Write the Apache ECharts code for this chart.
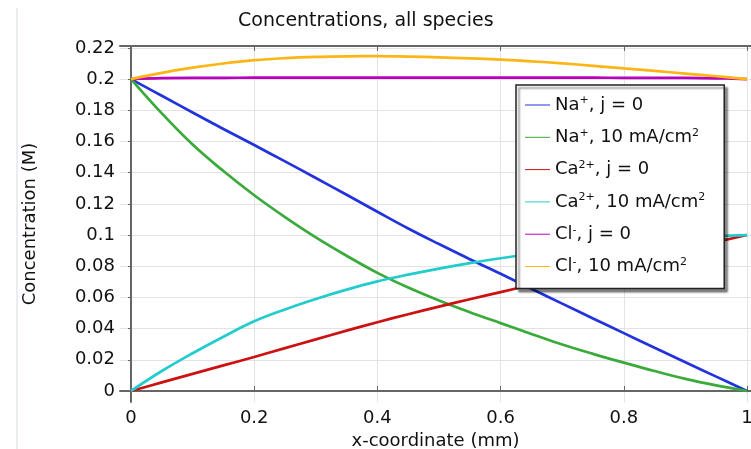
<!DOCTYPE html>
<html lang="en">
  <head>
    <meta charset="UTF-8" />
    <title>Concentrations, all species</title>
    <script src="https://cdn.jsdelivr.net/npm/echarts@6/dist/echarts.min.js"></script>
    <style>
      html,
      body {
        margin: 0;
        padding: 0;
        background: #fff;
      }
      #chart {
        width: 751px;
        height: 449px;
      }
    </style>
  </head>
  <body>
    <div id="chart"></div>

    <script>
      // x-coordinate (mm)
      var xs = [0, 0.05, 0.1, 0.15, 0.2, 0.25, 0.3, 0.35, 0.4, 0.45, 0.5, 0.55, 0.6, 0.65, 0.7, 0.75, 0.8, 0.85, 0.9, 0.95, 1];

      // concentrations (M)
      var naZero = [0.2, 0.1893, 0.1786, 0.168, 0.1577, 0.1472, 0.1366, 0.1258, 0.1149, 0.1042, 0.0942, 0.0845, 0.0752, 0.0655, 0.056, 0.0465, 0.0371, 0.0277, 0.0184, 0.0092, 0];
      var naTen = [0.2, 0.178, 0.158, 0.141, 0.1255, 0.1115, 0.0985, 0.0867, 0.0757, 0.0663, 0.058, 0.0505, 0.0435, 0.0366, 0.0298, 0.0238, 0.0182, 0.0128, 0.0078, 0.0036, 0];
      var caZero = [0, 0.0055, 0.011, 0.0164, 0.0218, 0.0275, 0.0331, 0.0387, 0.0441, 0.0492, 0.0541, 0.0588, 0.0634, 0.068, 0.0726, 0.0772, 0.0818, 0.0864, 0.091, 0.0955, 0.1];
      var caTen = [0, 0.0128, 0.0242, 0.0348, 0.0447, 0.0523, 0.059, 0.065, 0.0703, 0.0746, 0.0785, 0.082, 0.0851, 0.0879, 0.0905, 0.0928, 0.0948, 0.0966, 0.0981, 0.0993, 0.1];
      var clZero = [0.2, 0.2006, 0.2008, 0.2008, 0.2009, 0.2009, 0.2009, 0.2009, 0.2009, 0.2009, 0.2009, 0.2009, 0.2009, 0.2009, 0.2009, 0.2009, 0.2008, 0.2008, 0.2007, 0.2005, 0.2];
      var clTen = [0.2, 0.204, 0.2073, 0.21, 0.2121, 0.2134, 0.2142, 0.2146, 0.2147, 0.2144, 0.2139, 0.2133, 0.2125, 0.2114, 0.2101, 0.2085, 0.2068, 0.2052, 0.2035, 0.2018, 0.2];

      var xTicks = [0, 0.2, 0.4, 0.6, 0.8, 1];
      var yTicks = [0, 0.02, 0.04, 0.06, 0.08, 0.1, 0.12, 0.14, 0.16, 0.18, 0.2, 0.22];

      var seriesNames = ["Na+, j = 0", "Na+, 10 mA/cm2", "Ca2+, j = 0", "Ca2+, 10 mA/cm2", "Cl-, j = 0", "Cl-, 10 mA/cm2"];
      var seriesValues = [naZero, naTen, caZero, caTen, clZero, clTen];
      var seriesColors = ["#2233dd", "#3aaa3a", "#cc1111", "#22cccc", "#bb00bb", "#fbb615"];

      // legend text with superscripts
      var legendLabels = {
        "Na+, j = 0": "Na{sup|+}, j = 0",
        "Na+, 10 mA/cm2": "Na{sup|+}, 10 mA/cm{sup|2}",
        "Ca2+, j = 0": "Ca{sup|2+}, j = 0",
        "Ca2+, 10 mA/cm2": "Ca{sup|2+}, 10 mA/cm{sup|2}",
        "Cl-, j = 0": "Cl{sup|-}, j = 0",
        "Cl-, 10 mA/cm2": "Cl{sup|-}, 10 mA/cm{sup|2}",
      };

      var font = "DejaVu Sans";
      var chart = echarts.init(document.getElementById("chart"));

      var series = seriesNames.map(function (name, i) {
        return {
          name: name,
          type: "line",
          smooth: 0.4,
          symbol: "none",
          data: xs.map(function (x, k) {
            return [x, seriesValues[i][k]];
          }),
          lineStyle: { width: 2.7, color: seriesColors[i] },
          itemStyle: { color: seriesColors[i] },
        };
      });

      var option = {
        backgroundColor: "#fff",
        animation: false,
        title: {
          text: "Concentrations, all species",
          left: 238,
          top: 12,
          padding: 0,
          textStyle: { fontFamily: font, fontSize: 19, fontWeight: "normal", color: "#111" },
        },
        legend: {
          orient: "vertical",
          left: 516,
          top: 85,
          padding: [10, 19, 12, 9],
          itemGap: 12.3,
          itemWidth: 25,
          itemHeight: 14,
          icon: "path://M0,6.5L25,6.5L25,7.5L0,7.5Z",
          backgroundColor: "#fff",
          borderColor: "#222",
          borderWidth: 1.5,
          borderRadius: 0,
          shadowColor: "rgba(0,0,0,0.45)",
          shadowBlur: 2,
          shadowOffsetX: 3,
          shadowOffsetY: 3,
          data: seriesNames,
          formatter: function (name) {
            return legendLabels[name];
          },
          textStyle: {
            fontFamily: font,
            fontSize: 18,
            color: "#111",
            lineHeight: 20,
            rich: {
              sup: { fontFamily: font, fontSize: 11, lineHeight: 11, verticalAlign: "top", color: "#111" },
            },
          },
        },
        grid: { left: 120, top: 46, right: 0, bottom: 47, outerBoundsMode: "none", containLabel: false },
        xAxis: [
          {
            type: "value",
            min: -0.01786,
            max: 1.00649,
            name: "x-coordinate (mm)",
            nameLocation: "middle",
            nameGap: 23,
            nameTextStyle: { fontFamily: font, fontSize: 18, color: "#111" },
            axisLine: { show: true, lineStyle: { color: "#666", width: 2 } },
            axisTick: { show: true, inside: true, length: 5, customValues: xTicks, lineStyle: { color: "#666" } },
            axisLabel: {
              customValues: xTicks,
              margin: 7,
              fontFamily: font,
              fontSize: 18,
              color: "#111",
            },
            splitLine: { show: true, lineStyle: { color: "#e3e3e3", width: 1 } },
          },
          {
            type: "value",
            position: "top",
            min: -0.01786,
            max: 1.00649,
            axisLine: { show: true, lineStyle: { color: "#666", width: 2 } },
            axisTick: { show: true, inside: true, length: 5, customValues: xTicks, lineStyle: { color: "#666" } },
            axisLabel: { show: false },
            splitLine: { show: false },
          },
        ],
        yAxis: {
          type: "value",
          min: -0.00706,
          max: 0.2212,
          name: "Concentration (M)",
          nameLocation: "middle",
          nameGap: 81,
          nameTextStyle: { fontFamily: font, fontSize: 18, color: "#111" },
          axisLine: { show: true, lineStyle: { color: "#666", width: 2 } },
          axisTick: { show: true, length: 3, customValues: yTicks, lineStyle: { color: "#666" } },
          axisLabel: {
            customValues: yTicks,
            margin: 5,
            fontFamily: font,
            fontSize: 18,
            color: "#111",
          },
          splitLine: { show: true, lineStyle: { color: "#e3e3e3", width: 1 } },
        },
        graphic: [
          {
            type: "line",
            shape: { x1: 17, y1: 8, x2: 17, y2: 449 },
            style: { stroke: "#d4dae3", lineWidth: 1 },
          },
        ],
        series: series,
      };

      chart.setOption(option);
    </script>
  </body>
</html>
